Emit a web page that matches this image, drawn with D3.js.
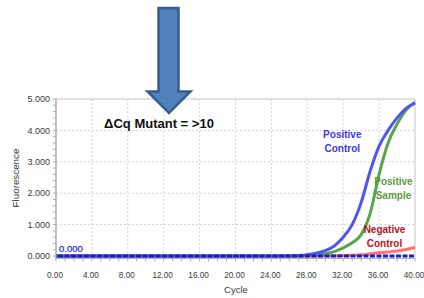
<!DOCTYPE html>
<html><head><meta charset="utf-8">
<script src="https://cdn.jsdelivr.net/npm/d3@7"></script>
<style>
html,body{margin:0;padding:0;background:#fff;}
svg{display:block;}
.tick-label{font-family:"Liberation Sans",Arial,sans-serif;fill:#3a3a3a;}
</style></head>
<body>
<svg id="chart" width="424" height="298"></svg>
<script>
const cycles = d3.range(0, 41);
const positiveControl = [0,0,0,0,0,0,0,0,0,0,0,0,0,0,0,0,0,0,0,0,0,0,0,0,0,0,0.005,0.015,0.04,0.09,0.17,0.32,0.6,1.0,1.7,2.7,3.5,4.0,4.4,4.7,4.87];
const positiveSample  = [0,0,0,0,0,0,0,0,0,0,0,0,0,0,0,0,0,0,0,0,0,0,0,0,0,0,0,0,0.01,0.03,0.07,0.14,0.26,0.42,0.68,1.35,2.6,3.6,4.2,4.65,4.9];
const negativeControl = [0,0,0,0,0,0,0,0,0,0,0,0,0,0,0,0,0,0,0,0,0,0,0,0,0,0,0,0,0,0,0.005,0.01,0.015,0.025,0.04,0.07,0.1,0.13,0.16,0.21,0.27];
const threshold = 0.0;
const xTicks = [0,4,8,12,16,20,24,28,32,36,40];
const yTicks = [0,1,2,3,4,5];
const annotation = "ΔCq Mutant = >10";
const seriesLabels = [
  {lines:["Positive","Control"], cycle:31.9, value:3.75, color:"#3a3ae6"},
  {lines:["Positive","Sample"], cycle:37.6, value:2.25, color:"#5e9a3c"},
  {lines:["Negative","Control"], cycle:36.6, value:0.72, color:"#c0101a"}
];

const svg = d3.select("#chart");
const x = d3.scaleLinear().domain([0,40]).range([56,415]);
const y = d3.scaleLinear().domain([0,5]).range([256,99]);
const yBottom = y(-0.08);

const g = svg.append("g");
g.selectAll(".hg").data(yTicks.filter(d=>d>0 && d<5)).join("line")
  .attr("x1",x(0)).attr("x2",x(40)).attr("y1",d=>y(d)).attr("y2",d=>y(d))
  .attr("stroke","#d4d4d4").attr("stroke-width",1).attr("stroke-dasharray","2,2");
g.selectAll(".vg").data(xTicks.filter(d=>d>0 && d<40)).join("line")
  .attr("x1",d=>x(d)).attr("x2",d=>x(d)).attr("y1",y(5)).attr("y2",yBottom)
  .attr("stroke","#d4d4d4").attr("stroke-width",1).attr("stroke-dasharray","2,2");

g.append("rect").attr("x",x(0)).attr("y",y(5)).attr("width",x(40)-x(0)).attr("height",yBottom-y(5))
  .attr("fill","none").attr("stroke","#cfcfcf").attr("stroke-width",1.2);
g.append("line").attr("x1",x(0)).attr("x2",x(0)).attr("y1",y(5)).attr("y2",yBottom).attr("stroke","#a0a0a0");
g.append("line").attr("x1",x(0)).attr("x2",x(40)).attr("y1",yBottom).attr("y2",yBottom).attr("stroke","#b0b0b0");

g.selectAll(".ym").data(d3.range(0,5.01,0.2)).join("line")
  .attr("x1",x(0)-3).attr("x2",x(0)).attr("y1",d=>y(d)).attr("y2",d=>y(d))
  .attr("stroke","#b0b0b0");
g.selectAll(".xm").data(d3.range(0,41,1)).join("line")
  .attr("x1",d=>x(d)).attr("x2",d=>x(d)).attr("y1",yBottom).attr("y2",yBottom+3)
  .attr("stroke","#b0b0b0");

g.selectAll(".yl").data(yTicks).join("text").attr("class","tick-label")
  .attr("x",50).attr("y",d=>y(d)).attr("dy","0.35em").attr("text-anchor","end")
  .attr("font-size",9).text(d=>d3.format(".3f")(d));
g.selectAll(".xl").data(xTicks).join("text").attr("class","tick-label")
  .attr("x",d=>x(d)-1).attr("y",278).attr("text-anchor","middle")
  .attr("font-size",8.2).text(d=>d3.format(".2f")(d));

svg.append("text").attr("class","tick-label").attr("font-size",9.8)
  .attr("transform","translate(19,178) rotate(-90)").attr("text-anchor","middle").text("Fluorescence");
svg.append("text").attr("class","tick-label").attr("font-size",9.5)
  .attr("x",236).attr("y",293).attr("text-anchor","middle").text("Cycle");

const line = d3.line().x((d,i)=>x(cycles[i])).y(d=>y(d)).curve(d3.curveMonotoneX);
svg.append("path").datum(negativeControl).attr("d",line).attr("fill","none")
  .attr("stroke","#ff5a5a").attr("stroke-opacity",0.85).attr("stroke-width",3);
svg.append("path").datum(positiveSample).attr("d",line).attr("fill","none")
  .attr("stroke","#55a64a").attr("stroke-width",3);
svg.append("path").datum(positiveControl).attr("d",line).attr("fill","none")
  .attr("stroke","#5252f5").attr("stroke-width",3);

svg.append("line").attr("x1",x(0)+2).attr("x2",x(40)).attr("y1",y(threshold)).attr("y2",y(threshold))
  .attr("stroke","#1c1cc4").attr("stroke-width",3).attr("stroke-dasharray","5,1.5");
svg.append("text").attr("x",x(0)+3).attr("y",y(threshold)-4.5)
  .attr("font-family","'Liberation Sans',Arial,sans-serif").attr("font-size",9.5)
  .attr("fill","#2a2ad8").attr("stroke","#2a2ad8").attr("stroke-width",0.25).text(d3.format(".3f")(threshold));

seriesLabels.forEach(s=>{
  const t = svg.append("text").attr("x",x(s.cycle)).attr("y",y(s.value))
    .attr("text-anchor","middle").attr("font-family","'Liberation Sans',Arial,sans-serif")
    .attr("font-weight","bold").attr("font-size",10).attr("fill",s.color);
  s.lines.forEach((l,i)=>t.append("tspan").attr("x",x(s.cycle)).attr("dy",i?13.5:0).text(l));
});

svg.append("text").attr("x",159).attr("y",128).attr("text-anchor","middle")
  .attr("font-family","'Liberation Sans',Arial,sans-serif").attr("font-weight","bold")
  .attr("font-size",13).attr("fill","#111").text(annotation);

const arrow = [[158.5,8],[178.5,8],[178.5,91.5],[190.5,91.5],[169,113],[147.5,91.5],[158.5,91.5]];
svg.append("path").attr("d","M"+arrow.map(p=>p.join(",")).join("L")+"Z")
  .attr("fill","#4f81bd").attr("stroke","#385d8a").attr("stroke-width",2.5).attr("stroke-linejoin","miter");
</script>
</body></html>
